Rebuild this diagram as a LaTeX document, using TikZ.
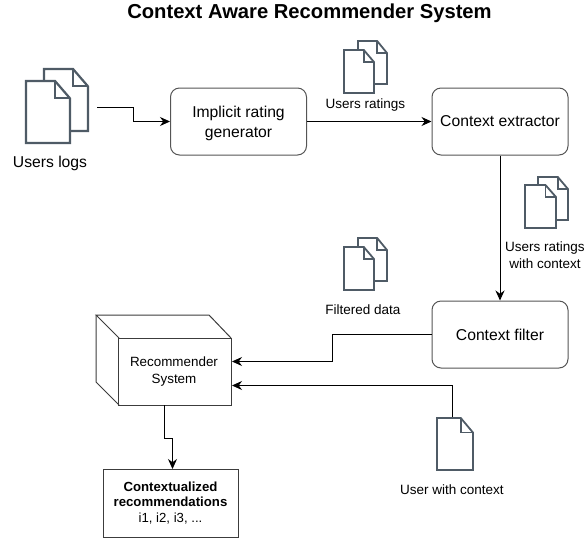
\documentclass[tikz,border=0pt]{standalone}
\usepackage{fontspec}
\setmainfont{Liberation Sans}
\usetikzlibrary{arrows.meta}
\definecolor{docgrey}{HTML}{4F5B66}
\definecolor{linegrey}{HTML}{555555}
\tikzset{
  flowbox/.style={rectangle,rounded corners=9pt,draw=linegrey,line width=1pt,minimum width=136pt,minimum height=67pt,align=center,text depth=0pt,font=\fontsize{15.7}{20}\selectfont},
  caption/.style={align=center,font=\fontsize{13.5}{16.5}\selectfont},
  flow/.style={draw=black,line width=1pt,-{Stealth[length=10pt,width=9pt]}},
  pics/sheet/.style args={#1/#2/#3}{code={
    \draw[draw=docgrey,line width=#3,fill=white,line join=miter] (0,0) -- (#1-0.34*#1,0) -- (#1,0.28*#2) -- (#1,#2) -- (0,#2) -- cycle;
    \draw[draw=docgrey,line width=#3] (#1-0.34*#1,0) -- (#1-0.34*#1,0.28*#2) -- (#1,0.28*#2);
  }}
}
\begin{document}
\begin{tikzpicture}[x=1pt,y=-1pt]
\useasboundingbox (0,0) rectangle (584,539);
\node[font=\bfseries\fontsize{20.2}{22}\selectfont] (title) at (309.5,13) {Context Aware Recommender System};

\pic at (44,69) {sheet=44/62/2.2pt};
\pic at (26,81) {sheet=44/62/2.2pt};
\node[caption,font=\fontsize{15.7}{19}\selectfont] (logs) at (50,163) {Users logs};
\coordinate (logsout) at (97,107.5);

\node[flowbox] (implicit) at (238.5,121.5) {Implicit rating\\generator};
\node[flowbox] (extractor) at (500,121.5) {Context extractor};
\node[flowbox] (filter) at (500,334.5) {Context filter};

\pic at (358,41) {sheet=29/43/1.8pt};
\pic at (344,50) {sheet=30/43/1.8pt};
\node[caption] (ratings) at (365.5,105.5) {Users ratings};

\pic at (538,177) {sheet=30/43/1.8pt};
\pic at (525,185) {sheet=31/43/1.8pt};
\node[caption] (ratingsctx) at (545,255) {Users ratings\\with context};

\pic at (358,238) {sheet=29/43/1.8pt};
\pic at (344,247) {sheet=30/43/1.8pt};
\node[caption] (filtered) at (363,310) {Filtered data};

\pic at (437,418) {sheet=36/52/1.8pt};
\coordinate (userout) at (452.5,417);
\node[caption] (userctx) at (452,490) {User with context};

% cube
\draw[draw=linegrey!70!black,line width=1pt] (119,338) -- (96,315) -- (209,315) -- (231,338);
\draw[draw=linegrey!70!black,line width=1pt] (96,315) -- (96,382) -- (119,405);
\node[rectangle,draw=linegrey!70!black,line width=1pt,minimum width=113pt,minimum height=67pt,align=center,font=\fontsize{13.4}{17}\selectfont] (recsys) at (175,371.5) {Recommender\kern2pt\\System\kern2pt};

\node[rectangle,draw=linegrey!70!black,line width=1pt,minimum width=135pt,minimum height=68pt,align=center,font=\fontsize{13.2}{15.5}\selectfont] (result) at (170.5,503) {\textbf{Contextualized}\\\textbf{recommendations}\\i1, i2, i3, ...};

\draw[flow] (logsout) -- (133.5,107.5) -- (133.5,121.5) -- (implicit.west);
\draw[flow] (implicit.east) -- (extractor.west);
\draw[flow] (extractor.south) -- (filter.north);
\draw[flow] (filter.west) -- (332.5,334.5) -- (332.5,361.5) -- (recsys.east |- 0,361.5);
\draw[flow] (userout) -- (452.5,385.5) -- (recsys.east |- 0,385.5);
\draw[flow] (164.5,405) -- (164.5,438.5) -- (172.5,438.5) -- (172.5,469);
\end{tikzpicture}
\end{document}
